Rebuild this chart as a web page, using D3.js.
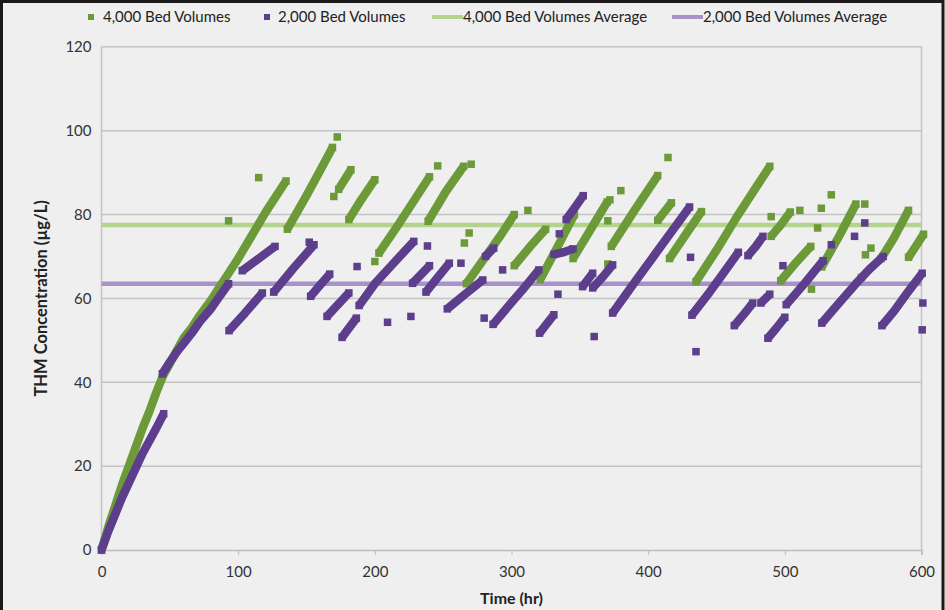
<!DOCTYPE html>
<html><head><meta charset="utf-8">
<script src="https://cdn.jsdelivr.net/npm/d3@7"></script>
<style>
body{margin:0;background:#efefef;}
svg{display:block;font-family:Lato,"Open Sans",sans-serif;}
</style>
</head><body>
<svg id="chart" width="945" height="610"></svg>
<script>
// ---- data (time in hr, THM in µg/L) ----
const xTicks = [0, 100, 200, 300, 400, 500, 600];
const yTicks = [0, 20, 40, 60, 80, 100, 120];
const seriesNames = ["4,000 Bed Volumes", "2,000 Bed Volumes", "4,000 Bed Volumes Average", "2,000 Bed Volumes Average"];
const avg4000 = 77.5;
const avg2000 = 63.5;

// runs of consecutive readings (each run = list of [t, v])
const bv4000Runs = [
  [[0,0],[5,5.5],[10,10.5],[15,15.5],[20,20],[25,24.5],[30,29],[35,33],[40,37.5],[45,41.5],[50,44.5],[55,47.5],[60,50.5],[66,53],[72,56],[80,59.5],[86,62.5],[93,66],[100,69.5],[110,75],[120,80.5],[128,84.5],[135,88]],
  [[136,76.5],[150,84.5],[160,90.5],[169,96]],
  [[173.5,86],[182.5,90.7]],
  [[181,78.8],[190,83.5],[200,88.3]],
  [[203,70.8],[215,76.5],[228,83],[240,89]],
  [[239,78.4],[252,85.5],[265,91.5]],
  [[267,63.5],[280,69.5],[292,75],[302,80]],
  [[302,67.8],[314,72.5],[325,76.5]],
  [[321,64.5],[334,72.5],[346,80]],
  [[345,69.5],[358,76.5],[370,83]],
  [[373,72.4],[390,81],[407,89.3]],
  [[407,78.6],[417,82.8]],
  [[415.6,69.5],[427,75],[439,80.7]],
  [[435,64],[450,71.5],[465,79.5],[480,87],[489,91.5]],
  [[490,74.8],[497,77.5],[504,80.6]],
  [[497,64.2],[508,68.5],[519,72.4]],
  [[527,67.5],[540,75],[552,82.5]],
  [[570.5,69.5],[580,74.5],[590.5,81]],
  [[590.5,69.8],[596,72.5],[601.5,75.3]]
];
const bv4000Points = [
  [93,78.5],[115,88.8],[172.5,98.5],[170,84.3],[200,68.8],[246,91.6],[270.5,92],[265.5,73.2],[269,75.6],
  [312,81],[370.5,78.5],[372,83.5],[380,85.7],[370.5,68.2],[414.5,93.6],[490,79.5],[511,81],[524,76.8],
  [526.7,81.5],[534,84.7],[519.5,62.2],[558.5,82.5],[559,70.4],[563,72],[556,65]
];
const bv2000Runs = [
  [[0,0],[5,4.5],[10,8.5],[15,12.5],[20,16],[25,19.5],[30,23],[35,26],[40,29],[45.5,32.5]],
  [[44.5,42],[50,44.8],[55,47.2],[60,49.2],[66,51.7],[72,54.5],[80,57.5],[86,60.3],[93,63.5]],
  [[93.3,52.3],[105,56.5],[117.7,61.3]],
  [[103,66.6],[115,69.5],[127,72.4]],
  [[126,61.5],[140,67],[155.5,72.8]],
  [[153,60.5],[160,63.2],[167,65.8]],
  [[165,55.7],[173,58.5],[181,61.3]],
  [[176,50.7],[186.5,55.3]],
  [[188.5,58.3],[200,63.5],[214,68.5],[228.5,73.6]],
  [[227.6,63.6],[240,67.8]],
  [[237.4,61.5],[246,65],[254.5,68.4]],
  [[253,57.5],[266,61],[279,64.4]],
  [[281,70],[287,72]],
  [[286.5,53.8],[300,59],[310,62.8],[320,66.8]],
  [[320.5,51.7],[331,56.1]],
  [[331,70.5],[338,71],[345,71.8]],
  [[340,78.8],[346,81.5],[352.5,84.5]],
  [[352,62.8],[359.4,66]],
  [[359.4,62.5],[367,65.2],[374,68]],
  [[374,56.5],[390,63.8],[405,70.5],[418,76.3],[430.3,81.8]],
  [[432,56],[445,61.5],[455,66],[466,71]],
  [[473,70.2],[479,72.5],[484,74.8]],
  [[463,53.5],[470,56.2],[476.5,58.9]],
  [[482.5,58.9],[489,61]],
  [[487.6,50.5],[494,53],[500,55.5]],
  [[501,58.5],[515,63.8],[528,69]],
  [[527,54.1],[540,59],[552,63.5],[562,67],[572,70]],
  [[571,53.5],[580,57],[590,61.5],[600.5,66]]
];
const bv2000Points = [
  [152,73.4],[187,67.6],[209.3,54.3],[226.4,55.7],[238.5,72.5],[263,68.4],[280,55.3],[293.5,66.8],
  [334,61],[335,75.4],[360.5,50.9],[431,69.8],[435,47.3],[498.6,67.8],[534,72.8],[551,74.8],[558.5,78],
  [601,58.9],[600.5,52.5]
];

// ---- drawing ----
const W = 945, H = 610;
const svg = d3.select("#chart");
const green = "#6c9a38", purple = "#5d3e8c";
const greenAvg = "#b4d48e", purpleAvg = "#a892c9";

const x = d3.scaleLinear().domain([0, 600]).range([101.5, 921.5]);
const y = d3.scaleLinear().domain([0, 120]).range([550, 46.8]);

svg.append("rect").attr("width", W).attr("height", H).attr("fill", "#efefef");

// gridlines
svg.append("g").selectAll("line").data(yTicks.filter(d => d > 0)).join("line")
  .attr("x1", x(0)).attr("x2", x(600)).attr("y1", d => y(d)).attr("y2", d => y(d))
  .attr("stroke", "#c4c4c4").attr("stroke-width", 1.5);
svg.append("line").attr("x1", x(0)).attr("x2", x(0)).attr("y1", y(120)).attr("y2", y(0)).attr("stroke", "#c4c4c4").attr("stroke-width", 1.5);
svg.append("line").attr("x1", x(600)).attr("x2", x(600)).attr("y1", y(120)).attr("y2", y(0)).attr("stroke", "#c4c4c4").attr("stroke-width", 1.5);

// axes
const xAxis = svg.append("g").attr("transform", `translate(0,${y(0)})`)
  .call(d3.axisBottom(x).tickValues(xTicks).tickSize(5).tickPadding(11).tickFormat(d3.format("d")));
xAxis.select(".domain").attr("stroke", "#bdbdbd").attr("stroke-width", 1.5);
xAxis.selectAll(".tick line").attr("stroke", "#bdbdbd");
xAxis.selectAll("text").attr("font-size", 15).attr("fill", "#333").attr("font-family", "Lato, sans-serif");

const yAxis = svg.append("g").attr("transform", `translate(${x(0)},0)`)
  .call(d3.axisLeft(y).tickValues(yTicks).tickSize(0).tickPadding(10).tickFormat(d3.format("d")));
yAxis.select(".domain").remove();
yAxis.selectAll("text").attr("font-size", 15).attr("fill", "#333").attr("font-family", "Lato, sans-serif");

// axis titles
svg.append("text").attr("x", x(300)).attr("y", 604).attr("text-anchor", "middle")
  .attr("font-size", 16).attr("font-weight", "bold").attr("fill", "#222").text("Time (hr)");
svg.append("text").attr("transform", `translate(47,${(y(0)+y(120))/2}) rotate(-90)`)
  .attr("text-anchor", "middle").attr("font-size", 16.5).attr("font-weight", "bold").attr("fill", "#222")
  .text("THM Concentration (µg/L)");

// averages
svg.append("line").attr("x1", x(0)).attr("x2", x(600)).attr("y1", y(avg4000)).attr("y2", y(avg4000))
  .attr("stroke", greenAvg).attr("stroke-width", 4.5);
svg.append("line").attr("x1", x(0)).attr("x2", x(600)).attr("y1", y(avg2000)).attr("y2", y(avg2000))
  .attr("stroke", purpleAvg).attr("stroke-width", 4.5);

const line = d3.line().x(d => x(d[0])).y(d => y(d[1]));
const ms = 7.5;
function drawSeries(runs, pts, color) {
  const g = svg.append("g");
  g.selectAll("path").data(runs).join("path")
    .attr("d", line).attr("fill", "none").attr("stroke", color)
    .attr("stroke-width", 8.5).attr("stroke-linecap", "butt").attr("stroke-linejoin", "round");
  const ends = runs.flatMap(r => [r[0], r[r.length - 1]]);
  g.selectAll("rect").data(ends.concat(pts)).join("rect")
    .attr("x", d => x(d[0]) - ms/2).attr("y", d => y(d[1]) - ms/2)
    .attr("width", ms).attr("height", ms).attr("fill", color);
}
drawSeries(bv4000Runs, bv4000Points, green);
drawSeries(bv2000Runs, bv2000Points, purple);

// legend
const lg = svg.append("g").attr("font-size", 15).attr("fill", "#222");
const legendItems = [
  {name: seriesNames[0], type: "sq", color: green, x: 88, tx: 103},
  {name: seriesNames[1], type: "sq", color: purple, x: 264, tx: 278},
  {name: seriesNames[2], type: "ln", color: greenAvg, x: 432, tx: 463},
  {name: seriesNames[3], type: "ln", color: purpleAvg, x: 672, tx: 703}
];
legendItems.forEach(it => {
  if (it.type === "sq") {
    lg.append("rect").attr("x", it.x).attr("y", 14).attr("width", 6).attr("height", 6).attr("fill", it.color);
  } else {
    lg.append("line").attr("x1", it.x).attr("x2", it.x + 31).attr("y1", 17).attr("y2", 17)
      .attr("stroke", it.color).attr("stroke-width", 4);
  }
  lg.append("text").attr("x", it.tx).attr("y", 22).text(it.name);
});

// outer frame (left, top, right)
svg.append("path").attr("d", `M1.5,${H} V1.5 H${W-2} V${H}`).attr("fill", "none").attr("stroke", "#1a1a1a").attr("stroke-width", 3);
</script>
</body></html>
